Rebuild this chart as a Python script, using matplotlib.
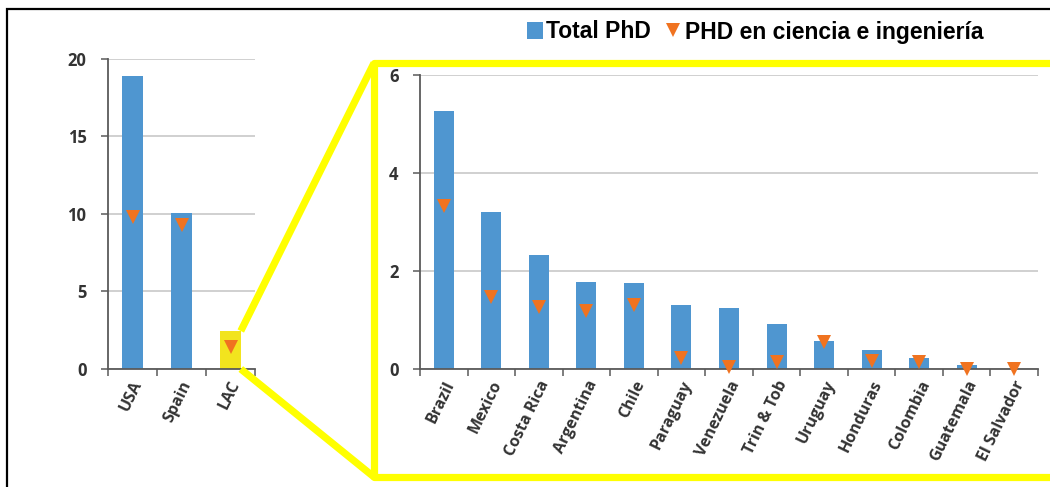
import matplotlib
matplotlib.use("Agg")
import matplotlib.pyplot as plt
from matplotlib.lines import Line2D
from matplotlib.patches import Patch
from matplotlib.ticker import MultipleLocator, FixedLocator
from matplotlib.font_manager import FontProperties
import matplotlib.transforms as mtransforms

# --- data -------------------------------------------------------------
main_labels = ["USA", "Spain", "LAC"]
main_total = [18.9, 10.05, 2.45]
main_science = [9.8, 9.3, 1.4]

lac_labels = ["Brazil", "Mexico", "Costa Rica", "Argentina", "Chile", "Paraguay",
              "Venezuela", "Trin & Tob", "Uruguay", "Honduras", "Colombia",
              "Guatemala", "El Salvador"]
lac_total = [5.27, 3.2, 2.33, 1.78, 1.76, 1.31, 1.24, 0.92, 0.57, 0.39, 0.22, 0.08, 0.0]
lac_science = [3.33, 1.47, 1.27, 1.18, 1.31, 0.22, 0.04, 0.14, 0.55, 0.16, 0.14, 0.0, 0.0]

legend_total = "Total PhD"
legend_science = "PHD en ciencia e ingeniería"

# --- style ------------------------------------------------------------
BLUE = "#4F96D0"
ORANGE = "#F07320"
YELLOW = "#FFFF00"
LAC_FILL = "#F2E41E"
GRID = "#D0D0D0"
SPINE = "#5A5A5A"
TEXT = "#333333"
TICK_FAMILY = "Open Sans"

W, H = 1050, 487
fig = plt.figure(figsize=(W / 100, H / 100), dpi=100)
fig.patch.set_facecolor("white")


def px(x, y):
    """Pixel position (from top-left) to figure fraction."""
    return x / W, 1 - y / H


def style_axes(ax, ymax, ystep, n):
    ax.set_xlim(-0.5, n - 0.5)
    ax.set_ylim(0, ymax)
    ax.yaxis.set_major_locator(MultipleLocator(ystep))
    ax.grid(axis="y", color=GRID, linewidth=1.4, zorder=0)
    ax.set_axisbelow(True)
    for side in ("top", "right"):
        ax.spines[side].set_visible(False)
    for side in ("left", "bottom"):
        ax.spines[side].set_color(SPINE)
        ax.spines[side].set_linewidth(1.3)
    ax.tick_params(axis="y", length=5, width=1.1, color=SPINE, pad=10.5,
                   labelcolor=TEXT)
    ax.set_xticks(range(n))
    ax.xaxis.set_minor_locator(FixedLocator([i - 0.5 for i in range(n + 1)]))
    ax.tick_params(axis="x", which="major", length=0, pad=9)
    ax.tick_params(axis="x", which="minor", length=5, width=1.1, color=SPINE)
    fp = FontProperties(family=TICK_FAMILY, weight="bold", size=12)
    for lab in ax.get_yticklabels():
        lab.set_fontproperties(fp)


def draw(ax, labels, total, science, colors, rot, dx):
    n = len(labels)
    ax.bar(range(n), total, width=0.42, color=colors, zorder=2)
    ax.plot(range(n), science, linestyle="none", marker="v", markersize=9.5,
            color=ORANGE, markeredgewidth=0, zorder=3, clip_on=False)
    ax.set_xticklabels(labels, rotation=rot, ha="right", va="center",
                       rotation_mode="anchor", color=TEXT,
                       fontproperties=FontProperties(family=TICK_FAMILY,
                                                     weight="bold", size=11.5))
    shift = mtransforms.ScaledTranslation(dx / 72, 0, fig.dpi_scale_trans)
    for lab in ax.get_xticklabels():
        lab.set_transform(lab.get_transform() + shift)


# left panel
x0, y0 = px(108, 369)
x1, y1 = px(255, 58.7)
ax1 = fig.add_axes([x0, y0, x1 - x0, y1 - y0])
style_axes(ax1, 20, 5, len(main_labels))
draw(ax1, main_labels, main_total, main_science,
     [BLUE, BLUE, LAC_FILL], 64, 4)

# right panel
x0, y0 = px(420, 369)
x1, y1 = px(1038, 75)
ax2 = fig.add_axes([x0, y0, x1 - x0, y1 - y0])
style_axes(ax2, 6, 2, len(lac_labels))
draw(ax2, lac_labels, lac_total, lac_science, BLUE, 64, 5)

# zoom frame connecting the LAC bar to the detail panel
to_fig = fig.transFigure.inverted()
bar_right = 2 + 0.21
top_pt = to_fig.transform(ax1.transData.transform((bar_right, main_total[2])))
bot_pt = to_fig.transform(ax1.transData.transform((bar_right, 0)))
bl, bt = px(374, 63)
_, bb = px(374, 477)
lw_y = 5.2
fig.add_artist(Line2D([1.02, bl, bl, 1.02], [bt, bt, bb, bb], color=YELLOW,
                      linewidth=lw_y, solid_joinstyle="round",
                      solid_capstyle="butt", transform=fig.transFigure, zorder=5))
fig.add_artist(Line2D([top_pt[0], bl], [top_pt[1], bt], color=YELLOW,
                      linewidth=lw_y, solid_capstyle="butt",
                      transform=fig.transFigure, zorder=5))
fig.add_artist(Line2D([bot_pt[0], bl], [bot_pt[1], bb], color=YELLOW,
                      linewidth=lw_y, solid_capstyle="butt",
                      transform=fig.transFigure, zorder=5))

# outer frame
fx, fy = px(7, 8.5)
fig.add_artist(Line2D([fx, fx, 1.0], [0.0, fy, fy], color="black",
                      linewidth=1.6, transform=fig.transFigure,
                      solid_joinstyle="miter", zorder=6))

# legend
handles = [Patch(facecolor=BLUE, edgecolor="none"),
           Line2D([], [], linestyle="none", marker="v", markersize=10,
                  color=ORANGE, markeredgewidth=0)]
lx, ly = px(755, 32)
fig.legend(handles, [legend_total, legend_science], loc="center",
           bbox_to_anchor=(lx, ly), ncol=2, frameon=False,
           handlelength=0.7, handleheight=0.7, handletextpad=0.15,
           columnspacing=0.6,
           prop=dict(family="Liberation Sans", weight="bold", size=16.5))

fig.savefig("out.png", dpi=100, facecolor="white")
